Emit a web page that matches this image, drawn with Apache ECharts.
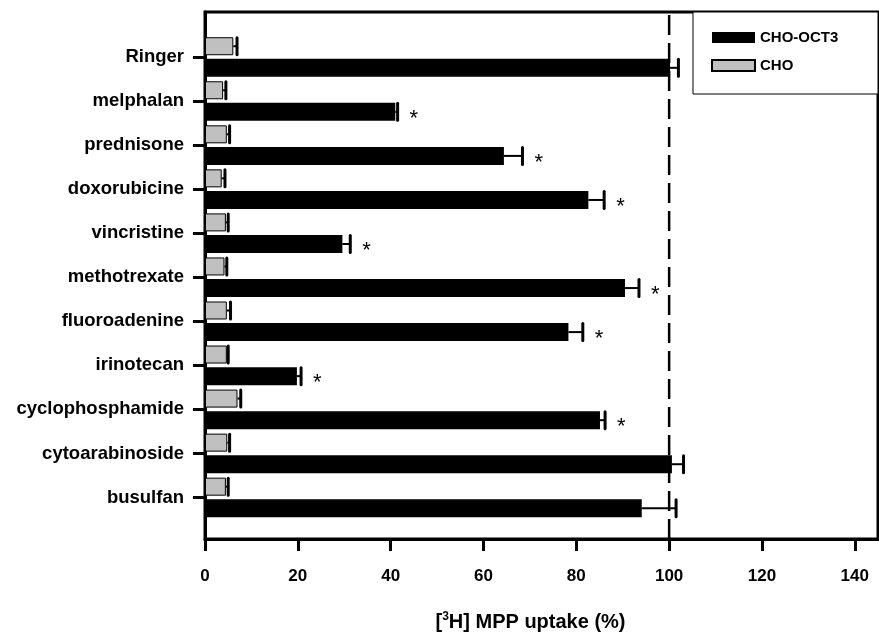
<!DOCTYPE html>
<html>
<head>
<meta charset="utf-8">
<script src="https://cdn.jsdelivr.net/npm/echarts@6/dist/echarts.min.js"></script>
<style>
  html, body { margin: 0; padding: 0; background: #fff; }
  #uptake { width: 879px; height: 637px; }
</style>
</head>
<body>
<div id="uptake"></div>
<script>
// drugs, top to bottom
var drugs = ['Ringer', 'melphalan', 'prednisone', 'doxorubicine', 'vincristine', 'methotrexate',
             'fluoroadenine', 'irinotecan', 'cyclophosphamide', 'cytoarabinoside', 'busulfan'];
// CHO-OCT3 mean and error (%)
var oct3_mean = [100.2, 41.0, 64.4, 82.6, 29.6, 90.5, 78.3, 19.8, 85.1, 100.6, 94.1];
var oct3_err  = [1.8, 0.5, 4.0, 3.4, 1.7, 3.0, 3.1, 0.9, 1.1, 2.5, 7.4];
// CHO mean and error (%)
var cho_mean = [6.1, 3.9, 4.7, 3.6, 4.5, 4.2, 4.7, 4.7, 7.0, 4.8, 4.5];
var cho_err  = [0.8, 0.6, 0.6, 0.7, 0.5, 0.5, 0.8, 0.3, 0.7, 0.5, 0.5];
// significance marks (*) on CHO-OCT3
var significant = [0, 1, 1, 1, 1, 1, 1, 1, 1, 0, 0];
var x_ticks = [0, 20, 40, 60, 80, 100, 120, 140];
var control_level = 100;

var FONT = '"Liberation Sans", Arial, sans-serif';
var BAR_W = 18;
var BAR_GAP = 0.2; // fraction of bar width
var half = BAR_W / 2 + BAR_W * BAR_GAP / 2;

var chartDom = document.getElementById('uptake');
var myChart = echarts.init(chartDom);
var option;

function errData(mean, err, stars) {
    return mean.map(function (m, i) {
        return [m, i, err[i], stars ? stars[i] : 0];
    });
}

function errRender(shift) {
    return function (params, api) {
        var m = api.value(0), idx = api.value(1), e = api.value(2), star = api.value(3);
        var p0 = api.coord([m, idx]);
        var p1 = api.coord([m + e, idx]);
        var y = p0[1] + shift;
        var kids = [
            { type: 'line', shape: { x1: p0[0], y1: y, x2: p1[0], y2: y },
              style: { stroke: '#000', lineWidth: 2 } },
            { type: 'line', shape: { x1: p1[0], y1: y - BAR_W / 2 + 0.5, x2: p1[0], y2: y + BAR_W / 2 - 0.5 },
              style: { stroke: '#000', lineWidth: 3, lineCap: 'round' } }
        ];
        if (star) {
            kids.push({ type: 'text', x: p1[0] + 12, y: y + 7,
                style: { text: '*', fill: '#000', font: '22px ' + FONT, verticalAlign: 'middle' } });
        }
        return { type: 'group', children: kids };
    };
}

option = {
    animation: false,
    backgroundColor: '#fff',
    textStyle: { fontFamily: FONT },
    graphic: [
        { type: 'rect', z: 1, shape: { x: 693, y: 12, width: 185, height: 82 },
          style: { fill: '#fff', stroke: '#000', lineWidth: 1 } }
    ],
    legend: {
        data: ['CHO-OCT3', 'CHO'],
        orient: 'vertical',
        left: 706,
        top: 25,
        itemWidth: 43,
        itemHeight: 11,
        itemGap: 13,
        icon: 'rect',
        textStyle: { color: '#000', fontSize: 15, fontWeight: 'bold', fontFamily: FONT }
    },
    grid: [
        { left: 205, right: 1, top: 12, bottom: 96, show: true, borderColor: '#000', borderWidth: 3 },
        { left: 205, right: 1, top: 35, bottom: 117.5 }
    ],
    xAxis: [
        {
            gridIndex: 0, type: 'value', min: 0, max: 145,
            name: '[{sup|3}H] MPP uptake (%)',
            nameLocation: 'middle',
            nameGap: 72,
            nameTextStyle: {
                color: '#000', fontSize: 20, fontWeight: 'bold', fontFamily: FONT,
                padding: [0, 22, 0, 0],
                rich: { sup: { fontSize: 12, fontWeight: 'bold', verticalAlign: 'top', padding: [0, 0, 10, 0] } }
            },
            splitLine: { show: false },
            axisLine: { show: true, lineStyle: { color: '#000', width: 3 } },
            axisTick: { show: true, length: 12, lineStyle: { color: '#000', width: 3 }, customValues: x_ticks },
            axisLabel: { color: '#000', fontSize: 17, fontWeight: 'bold', margin: 29, customValues: x_ticks }
        },
        {
            gridIndex: 1, type: 'value', min: 0, max: 145, show: false
        }
    ],
    yAxis: [
        {
            gridIndex: 0, type: 'value', min: 0, max: 1,
            splitLine: { show: false },
            axisLine: { show: true, lineStyle: { color: '#000', width: 3 } },
            axisTick: { show: false },
            axisLabel: { show: false }
        },
        {
            gridIndex: 1, type: 'category', data: drugs, inverse: true,
            axisLine: { show: false },
            axisTick: { show: true, alignWithLabel: true, length: 12, lineStyle: { color: '#000', width: 3 } },
            axisLabel: { color: '#000', fontSize: 18.5, fontWeight: 'bold', margin: 21 }
        }
    ],
    series: [
        {
            name: 'CHO',
            type: 'bar',
            xAxisIndex: 1, yAxisIndex: 1,
            data: cho_mean,
            barWidth: BAR_W,
            barGap: (BAR_GAP * 100) + '%',
            itemStyle: { color: '#c0c0c0', borderColor: '#000', borderWidth: 1 }
        },
        {
            name: 'CHO-OCT3',
            type: 'bar',
            xAxisIndex: 1, yAxisIndex: 1,
            data: oct3_mean,
            barWidth: BAR_W,
            barGap: (BAR_GAP * 100) + '%',
            itemStyle: { color: '#000' }
        },
        {
            name: 'CHO err',
            type: 'custom',
            xAxisIndex: 1, yAxisIndex: 1,
            renderItem: errRender(-half),
            encode: { x: 0, y: 1 },
            data: errData(cho_mean, cho_err),
            z: 3
        },
        {
            name: 'CHO-OCT3 err',
            type: 'custom',
            xAxisIndex: 1, yAxisIndex: 1,
            renderItem: errRender(half),
            encode: { x: 0, y: 1 },
            data: errData(oct3_mean, oct3_err, significant),
            z: 3
        },
        {
            name: 'control',
            type: 'line',
            xAxisIndex: 0, yAxisIndex: 0,
            data: [[control_level, 0], [control_level, 1]],
            symbol: 'none',
            silent: true,
            lineStyle: { color: '#000', width: 2.5, type: [20, 8] },
            z: 1
        }
    ]
};

option && myChart.setOption(option);
</script>
</body>
</html>
